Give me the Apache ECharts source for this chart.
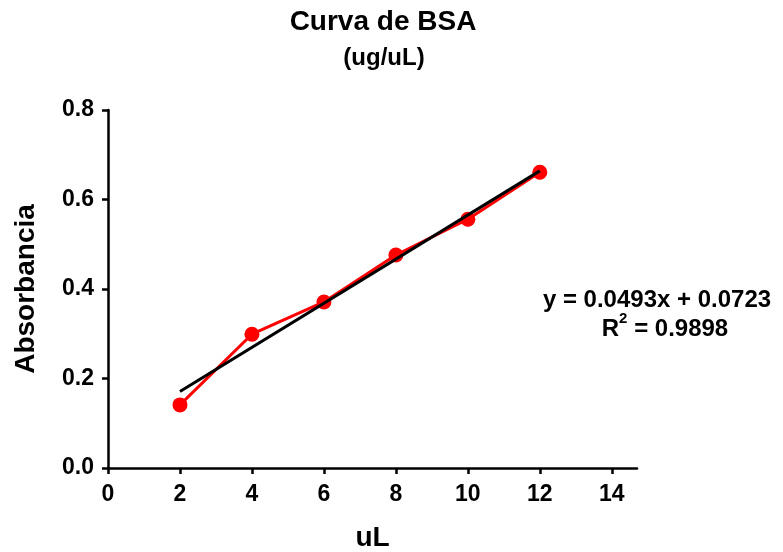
<!DOCTYPE html>
<html>
<head>
<meta charset="utf-8">
<script src="https://cdn.jsdelivr.net/npm/echarts@6/dist/echarts.min.js"></script>
<style>
  html, body { margin: 0; padding: 0; background: #fff; }
  #chart { width: 783px; height: 552px; }
</style>
</head>
<body>
<div id="chart"></div>
<script>
const volumes = [2, 4, 6, 8, 10, 12];
const absorbance = [0.141, 0.299, 0.371, 0.476, 0.556, 0.661];
// trend line endpoints (y = 0.0493x + 0.0723)
const fitX = [2, 12];
const fitY = [0.171, 0.664];
const equationText = 'y = 0.0493x + 0.0723';
const r2Text = '0.9898';

const font = '"Liberation Sans", Arial, sans-serif';
const chart = echarts.init(document.getElementById('chart'));

const axisLine = { lineStyle: { color: '#000', width: 2.5 } };
const axisTick = { inside: false, length: 6, lineStyle: { color: '#000', width: 2.5 } };
const axisLabel = { color: '#000', fontFamily: font, fontWeight: 'bold', fontSize: 23 };

chart.setOption({
  animation: false,
  title: [
    {
      text: 'Curva de BSA',
      left: 378,
      top: 3,
      textAlign: 'center',
      textStyle: { fontFamily: font, fontWeight: 'bold', fontSize: 28, color: '#000' }
    },
    {
      text: '(ug/uL)',
      left: 379,
      top: 41,
      textAlign: 'center',
      textStyle: { fontFamily: font, fontWeight: 'bold', fontSize: 24, color: '#000' }
    }
  ],
  grid: { left: 108, right: 146, top: 110, bottom: 84, outerBoundsMode: 'none', containLabel: false },
  xAxis: {
    type: 'value',
    min: 0,
    max: 14.7,
    interval: 2,
    name: 'uL',
    nameLocation: 'middle',
    nameGap: 56,
    nameTextStyle: { fontFamily: font, fontWeight: 'bold', fontSize: 28, color: '#000' },
    axisLine,
    axisTick,
    axisLabel: Object.assign({ margin: 15, showMaxLabel: false }, axisLabel),
    splitLine: { show: false }
  },
  yAxis: {
    type: 'value',
    min: 0,
    max: 0.8,
    interval: 0.2,
    name: 'Absorbancia',
    nameLocation: 'middle',
    nameGap: 68,
    nameTextStyle: { fontFamily: font, fontWeight: 'bold', fontSize: 28, color: '#000' },
    axisLine: Object.assign({ onZero: false }, axisLine),
    axisTick,
    axisLabel: Object.assign({ margin: 14, formatter: v => v.toFixed(1) }, axisLabel),
    splitLine: { show: false }
  },
  series: [
    {
      type: 'line',
      data: fitX.map((x, i) => [x, fitY[i]]),
      showSymbol: false,
      lineStyle: { color: '#000', width: 3 },
      z: 3
    },
    {
      type: 'line',
      data: volumes.map((x, i) => [x, absorbance[i]]),
      symbol: 'circle',
      symbolSize: 15,
      itemStyle: { color: '#ff0000' },
      lineStyle: { color: '#ff0000', width: 3 },
      z: 2
    }
  ],
  graphic: [
    {
      type: 'text',
      x: 657,
      y: 300,
      style: {
        text: equationText,
        fontFamily: font,
        fontWeight: 'bold',
        fontSize: 24,
        fill: '#000',
        align: 'center',
        verticalAlign: 'middle'
      }
    },
    {
      type: 'text',
      x: 665,
      y: 326,
      style: {
        text: '{b|R}{sup|2}{b| = ' + r2Text + '}',
        align: 'center',
        verticalAlign: 'middle',
        rich: {
          b: { fontFamily: font, fontWeight: 'bold', fontSize: 24, color: '#000', verticalAlign: 'bottom', lineHeight: 30 },
          sup: { fontFamily: font, fontWeight: 'bold', fontSize: 15, color: '#000', verticalAlign: 'top', lineHeight: 30 }
        }
      }
    }
  ]
});
</script>
</body>
</html>
